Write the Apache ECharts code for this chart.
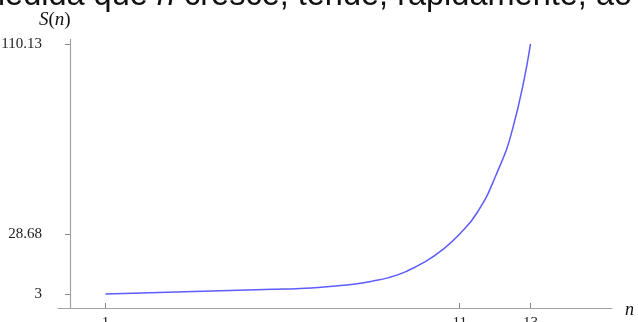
<!DOCTYPE html>
<html>
<head>
<meta charset="utf-8">
<script src="https://cdn.jsdelivr.net/npm/echarts@6/dist/echarts.min.js"></script>
<style>
  html, body { margin: 0; padding: 0; background: #fff; }
  #chart { width: 638px; height: 322px; }
</style>
</head>
<body>
<div id="chart"></div>
<script>
// Partial sums S(n) sampled every half step of n
const nValues = [1, 1.5, 2, 2.5, 3, 3.5, 4, 4.5, 5, 5.5, 6, 6.5, 7, 7.5, 8, 8.5, 9, 9.5, 10, 10.5, 11, 11.5, 12, 12.5, 13];
const sValues = [3, 3.22, 3.45, 3.67, 3.9, 4.1, 4.3, 4.5, 4.7, 4.9, 5.1, 5.4, 5.8, 6.4, 7.2, 8.4, 10.0, 12.7, 16.6, 21.8, 28.68, 38.0, 53.0, 74.0, 110.13];

// Marked positions on each axis
const xTicks = [1, 11, 13];
const yTicks = [3, 28.68, 110.13];

const serif = "'Liberation Serif', 'DejaVu Serif', serif";
const axisGray = '#a3a3a3';

const chart = echarts.init(document.getElementById('chart'), null, { renderer: 'canvas' });

chart.setOption({
  animation: false,
  backgroundColor: '#ffffff',
  grid: { left: 58, right: 26, top: 39.4, bottom: 14, containLabel: false, outerBoundsMode: 'none' },
  xAxis: {
    type: 'value',
    min: -0.34,
    max: 15.3,
    axisLine: { onZero: false, lineStyle: { color: axisGray, width: 1.2 } },
    axisTick: { inside: true, length: 5, customValues: xTicks, lineStyle: { color: '#888', width: 1 } },
    axisLabel: { customValues: xTicks, margin: 8, fontFamily: serif, fontSize: 15, color: '#222' },
    splitLine: { show: false }
  },
  yAxis: {
    type: 'value',
    min: -3,
    max: 112,
    axisLine: { show: true, onZero: true, lineStyle: { color: axisGray, width: 1.2 } },
    axisTick: { show: true, inside: false, length: 5, customValues: yTicks, lineStyle: { color: '#888', width: 1 } },
    axisLabel: { customValues: yTicks, margin: 16, fontFamily: serif, fontSize: 15, color: '#222' },
    splitLine: { show: false }
  },
  series: [{
    type: 'line',
    data: nValues.map((n, i) => [n, sValues[i]]),
    smooth: 0.5,
    showSymbol: false,
    lineStyle: { color: '#5c5cff', width: 1.5 }
  }],
  graphic: [
    {
      type: 'text',
      x: -22, y: -4,
      style: {
        text: '{r|medida que }{i|n}{r| cresce, tende, rapidamente, ao}',
        verticalAlign: 'middle',
        rich: {
          r: { fontFamily: "'Liberation Sans', Arial, sans-serif", fontSize: 32.5, fill: '#111' },
          i: { fontFamily: "'Liberation Sans', Arial, sans-serif", fontSize: 32.5, fontStyle: 'italic', fill: '#111' }
        }
      }
    },
    {
      type: 'text',
      x: 39, y: 20,
      style: {
        text: '{i|S}{r|(}{i|n}{r|)}',
        verticalAlign: 'middle',
        rich: {
          i: { fontFamily: serif, fontSize: 19, fontStyle: 'italic', fill: '#111' },
          r: { fontFamily: serif, fontSize: 19, fill: '#111' }
        }
      }
    },
    {
      type: 'text',
      x: 625, y: 310,
      style: {
        text: 'n',
        verticalAlign: 'middle',
        fontFamily: serif, fontSize: 18, fontStyle: 'italic', fill: '#111'
      }
    }
  ]
});
</script>
</body>
</html>
